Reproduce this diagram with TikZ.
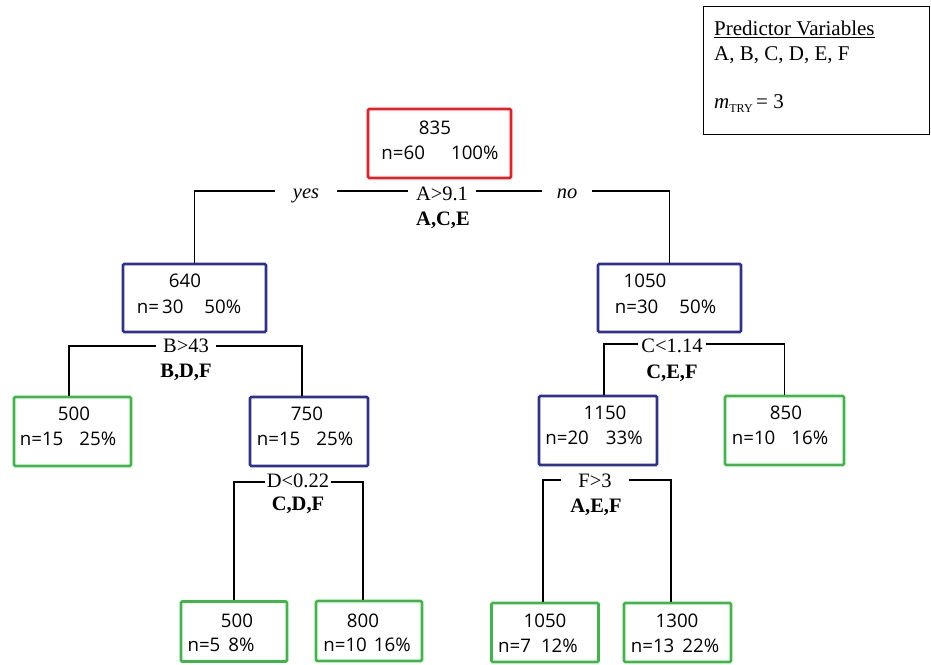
\documentclass[tikz,border=0pt]{standalone}
\usepackage{fontspec}
\setmainfont{Liberation Serif}
\newfontfamily\boxfont{Open Sans}
\definecolor{cred}{RGB}{237,28,36}
\definecolor{cblue}{RGB}{46,49,146}
\definecolor{cgreen}{RGB}{61,183,70}
\begin{document}
\begin{tikzpicture}[x=1pt,y=-1pt,
  tbox/.style={draw, line width=2.6pt, rounded corners=1.2pt, fill=white, inner sep=0pt},
  rbox/.style={tbox, draw=cred},
  bbox/.style={tbox, draw=cblue},
  gbox/.style={tbox, draw=cgreen},
  txt/.style={anchor=base, inner sep=0pt, font=\boxfont\fontsize{18.7}{21}\selectfont},
  conn/.style={line width=1.2pt, black},
  lbl/.style={anchor=base, fill=white, inner xsep=5pt, inner ysep=1pt, font=\fontsize{20.5}{22}\selectfont},
  blbl/.style={anchor=base, inner sep=0pt, font=\bfseries\fontsize{20.5}{22}\selectfont},
  leg/.style={anchor=base west, inner sep=0pt, font=\fontsize{21}{23}\selectfont}]
\useasboundingbox (0,0) rectangle (931,664);

% boxes
\node[rbox, minimum width=143pt, minimum height=69pt] (root) at (439.5,143.5) {};
\node[bbox, minimum width=143pt, minimum height=68pt] (n640) at (194.5,298) {};
\node[bbox, minimum width=143pt, minimum height=68pt] (n1050r) at (669.5,298) {};
\node[gbox, minimum width=117pt, minimum height=69pt] (n500) at (72.5,431.5) {};
\node[bbox, minimum width=118pt, minimum height=69pt] (n750) at (309,431.5) {};
\node[bbox, minimum width=118pt, minimum height=69pt] (n1150) at (598,430.5) {};
\node[gbox, minimum width=119pt, minimum height=69pt] (n850) at (784.5,430.5) {};
\node[gbox, minimum width=106pt, minimum height=60pt] (n500b) at (234,631.5) {};
\node[gbox, minimum width=106pt, minimum height=60pt] (n800) at (369,631) {};
\node[gbox, minimum width=107pt, minimum height=59pt] (n1050b) at (545,632.5) {};
\node[gbox, minimum width=107pt, minimum height=59pt] (n1300) at (677.5,632.5) {};

% box texts
\node[txt] (t-root-a) at (435,134) {835};
\node[txt] (t-root-b) at (440,159) {n=60\hspace{26pt}100\%};
\node[txt] (t-640-a) at (185,287) {640};
\node[txt] (t-640-b) at (189,313) {n=\,30\hspace{21pt}50\%};
\node[txt] (t-1050r-a) at (645,287) {1050};
\node[txt] (t-1050r-b) at (665.5,313) {n=30\hspace{21pt}50\%};
\node[txt] (t-500-a) at (74,420) {500};
\node[txt] (t-500-b) at (68,445) {n=15\hspace{16pt}25\%};
\node[txt] (t-750-a) at (307,420) {750};
\node[txt] (t-750-b) at (305,445) {n=15\hspace{16pt}25\%};
\node[txt] (t-1150-a) at (605,419) {1150};
\node[txt] (t-1150-b) at (594,444) {n=20\hspace{17pt}33\%};
\node[txt] (t-850-a) at (786,419) {850};
\node[txt] (t-850-b) at (780,444) {n=10\hspace{16pt}16\%};
\node[txt] (t-500b-a) at (237,627) {500};
\node[txt] (t-500b-b) at (221,651) {n=5\hspace{8pt}8\%};
\node[txt] (t-800-a) at (363,627) {800};
\node[txt] (t-800-b) at (367,651) {n=10\hspace{7pt}16\%};
\node[txt] (t-1050b-a) at (545,627) {1050};
\node[txt] (t-1050b-b) at (538,652) {n=7\hspace{10pt}12\%};
\node[txt] (t-1300-a) at (677,627) {1300};
\node[txt] (t-1300-b) at (675,652) {n=13\hspace{8pt}22\%};

% split coordinates
\coordinate (sA) at (442,191);
\coordinate (sB) at (186,346);
\coordinate (sC) at (672,344);
\coordinate (sD) at (298,482);
\coordinate (sE) at (596,480);

% connectors
\draw[conn] (n640.north) |- (sA) -| (n1050r.north);
\draw[conn] ([xshift=-3.5pt]n500.north) |- (sB) -| ([xshift=-7pt]n750.north);
\draw[conn] ([xshift=6pt]n1150.north) |- (sC) -| (n850.north);
\draw[conn] (n500b.north) |- (sD) -| ([xshift=-6pt]n800.north);
\draw[conn] ([xshift=-2pt]n1050b.north) |- (sE) -| ([xshift=-6.5pt]n1300.north);

% split labels
\node[lbl, inner xsep=8pt] (lA) at (442,200) {A>9.1};
\node[lbl, inner xsep=18pt, font=\itshape\fontsize{20.5}{22}\selectfont] (lyes) at (306,198) {yes};
\node[lbl, inner xsep=15pt, font=\itshape\fontsize{20.5}{22}\selectfont] (lno) at (567,198) {no};
\node[blbl] (vA) at (443,225) {A,C,E};
\node[lbl, inner xsep=7pt] (lB) at (186,352) {B>43};
\node[blbl] (vB) at (186,377) {B,D,F};
\node[lbl, inner xsep=3pt] (lC) at (672,352) {C<1.14};
\node[blbl] (vC) at (672,378) {C,E,F};
\node[lbl, inner xsep=2pt] (lD) at (298,487) {D<0.22};
\node[blbl] (vD) at (298,510) {C,D,F};
\node[lbl, inner xsep=17pt] (lE) at (595,487) {F>3};
\node[blbl] (vE) at (596,512) {A,E,F};

% legend
\node[draw, line width=1.3pt, minimum width=226pt, minimum height=128pt, anchor=north west, inner sep=0pt] (legend) at (702.5,5.5) {};
\node[leg] (leg1) at (714,35) {\underline{Predictor Variables}};
\node[leg] (leg2) at (714,60) {A, B, C, D, E, F};
\node[leg] (leg3) at (714,108) {\textit{m}\raisebox{-4pt}{\fontsize{12}{12}\selectfont TRY}\,= 3};
\end{tikzpicture}
\end{document}
